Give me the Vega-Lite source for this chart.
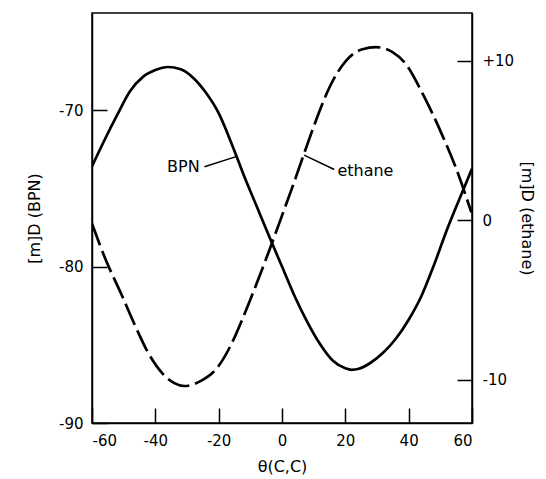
{
  "$schema": "https://vega.github.io/schema/vega-lite/v6.json",
  "autosize": "none",
  "padding": {"left": 92, "top": 13, "right": 74, "bottom": 56},
  "width": 380,
  "height": 410,
  "config": {
    "view": {"stroke": "black", "strokeWidth": 1.5},
    "axis": {
      "grid": false,
      "domainColor": "black",
      "domainWidth": 1.5,
      "tickColor": "black",
      "tickWidth": 1.5,
      "labelColor": "black",
      "titleColor": "black",
      "labelFont": "DejaVu Sans",
      "titleFont": "DejaVu Sans",
      "labelFontSize": 15,
      "titleFontSize": 16,
      "titleFontWeight": "normal"
    }
  },
  "datasets": {
    "bpn": [
      {"theta": -60, "m": -73.6},
      {"theta": -56, "m": -71.9},
      {"theta": -52, "m": -70.3},
      {"theta": -48, "m": -68.8},
      {"theta": -44, "m": -67.9},
      {"theta": -40, "m": -67.45},
      {"theta": -36, "m": -67.25},
      {"theta": -32, "m": -67.4},
      {"theta": -28, "m": -67.95},
      {"theta": -24, "m": -68.9},
      {"theta": -20, "m": -70.2},
      {"theta": -16, "m": -72.1},
      {"theta": -12, "m": -74.2},
      {"theta": -8, "m": -76.15},
      {"theta": -4, "m": -78.1},
      {"theta": 0, "m": -80.0},
      {"theta": 4, "m": -81.9},
      {"theta": 8, "m": -83.55},
      {"theta": 12, "m": -84.95},
      {"theta": 16, "m": -86.0},
      {"theta": 20, "m": -86.5},
      {"theta": 22, "m": -86.6},
      {"theta": 24, "m": -86.55},
      {"theta": 28, "m": -86.15},
      {"theta": 32, "m": -85.5},
      {"theta": 36, "m": -84.6},
      {"theta": 40, "m": -83.4},
      {"theta": 44, "m": -81.9},
      {"theta": 48, "m": -79.9},
      {"theta": 52, "m": -77.7},
      {"theta": 56, "m": -75.7},
      {"theta": 60, "m": -73.75}
    ],
    "ethane": [
      {"theta": -60, "m": -0.2},
      {"theta": -55.6, "m": -2.5},
      {"theta": -50.8, "m": -4.6},
      {"theta": -46.6, "m": -6.5},
      {"theta": -42.4, "m": -8.25},
      {"theta": -37.7, "m": -9.6},
      {"theta": -34, "m": -10.2},
      {"theta": -30.9, "m": -10.38},
      {"theta": -25.6, "m": -10.06},
      {"theta": -20.3, "m": -9.2},
      {"theta": -16.1, "m": -7.8},
      {"theta": -11.9, "m": -5.9},
      {"theta": -7.7, "m": -3.8},
      {"theta": -3.5, "m": -1.6},
      {"theta": 0, "m": 0.3},
      {"theta": 3.3, "m": 2.1},
      {"theta": 7, "m": 4.2},
      {"theta": 10.7, "m": 6.25},
      {"theta": 14.9, "m": 8.3},
      {"theta": 20.2, "m": 10.0},
      {"theta": 25.4, "m": 10.73},
      {"theta": 29.7, "m": 10.86},
      {"theta": 34.9, "m": 10.55},
      {"theta": 39.1, "m": 9.8},
      {"theta": 44.4, "m": 7.95},
      {"theta": 50.7, "m": 5.3},
      {"theta": 54.9, "m": 3.3},
      {"theta": 59.8, "m": 0.5}
    ],
    "bpnLabel": [{"label": "BPN", "x": -26, "y": -73.62, "x1": -24.5, "y1": -73.62, "x2": -14.5, "y2": -72.98}],
    "ethLabel": [{"label": "ethane", "x": 17.5, "y": 3.1, "x1": 16.5, "y1": 3.19, "x2": 7.0, "y2": 4.09}]
  },
  "layer": [
    {
      "layer": [
        {
          "data": {"name": "bpn"},
          "mark": {"type": "line", "color": "black", "strokeWidth": 2.7, "interpolate": "monotone", "clip": true},
          "encoding": {
            "x": {"field": "theta", "type": "quantitative",
                  "scale": {"domain": [-60, 60], "nice": false},
                  "axis": {"values": [-60, -40, -20, 0, 20, 40, 60], "title": "θ(C,C)", "tickSize": -15, "labelPadding": 25, "titlePadding": 10, "labelExpr": "'' + datum.value"}},
            "y": {"field": "m", "type": "quantitative",
                  "scale": {"domain": [-90, -63.8], "nice": false, "zero": false},
                  "axis": {"values": [-90, -80, -70], "title": "[m]D (BPN)", "tickSize": -15, "labelPadding": 24, "titlePadding": 16, "labelExpr": "'' + datum.value"}}
          }
        },
        {
          "data": {"name": "bpnLabel"},
          "mark": {"type": "text", "align": "right", "baseline": "middle", "font": "DejaVu Sans", "fontSize": 16, "color": "black"},
          "encoding": {
            "x": {"field": "x", "type": "quantitative"},
            "y": {"field": "y", "type": "quantitative"},
            "text": {"field": "label"}
          }
        },
        {
          "data": {"name": "bpnLabel"},
          "mark": {"type": "rule", "color": "black", "strokeWidth": 1.5},
          "encoding": {
            "x": {"field": "x1", "type": "quantitative"},
            "y": {"field": "y1", "type": "quantitative"},
            "x2": {"field": "x2"},
            "y2": {"field": "y2"}
          }
        }
      ]
    },
    {
      "layer": [
        {
          "data": {"name": "ethane"},
          "mark": {"type": "line", "color": "black", "strokeWidth": 2.7, "strokeDash": [23, 6], "interpolate": "monotone", "clip": true},
          "encoding": {
            "x": {"field": "theta", "type": "quantitative"},
            "y": {"field": "m", "type": "quantitative",
                  "scale": {"domain": [-12.7, 13.0], "nice": false, "zero": false},
                  "axis": {"orient": "right", "values": [-10, 0, 10], "title": "[m]D (ethane)", "tickSize": -15, "labelPadding": 25, "titlePadding": 5, "labelExpr": "datum.value > 0 ? '+' + datum.value : '' + datum.value"}}
          }
        },
        {
          "data": {"name": "ethLabel"},
          "mark": {"type": "text", "align": "left", "baseline": "middle", "font": "DejaVu Sans", "fontSize": 16, "color": "black"},
          "encoding": {
            "x": {"field": "x", "type": "quantitative"},
            "y": {"field": "y", "type": "quantitative"},
            "text": {"field": "label"}
          }
        },
        {
          "data": {"name": "ethLabel"},
          "mark": {"type": "rule", "color": "black", "strokeWidth": 1.5},
          "encoding": {
            "x": {"field": "x1", "type": "quantitative"},
            "y": {"field": "y1", "type": "quantitative"},
            "x2": {"field": "x2"},
            "y2": {"field": "y2"}
          }
        }
      ]
    }
  ],
  "resolve": {"scale": {"y": "independent"}}
}
